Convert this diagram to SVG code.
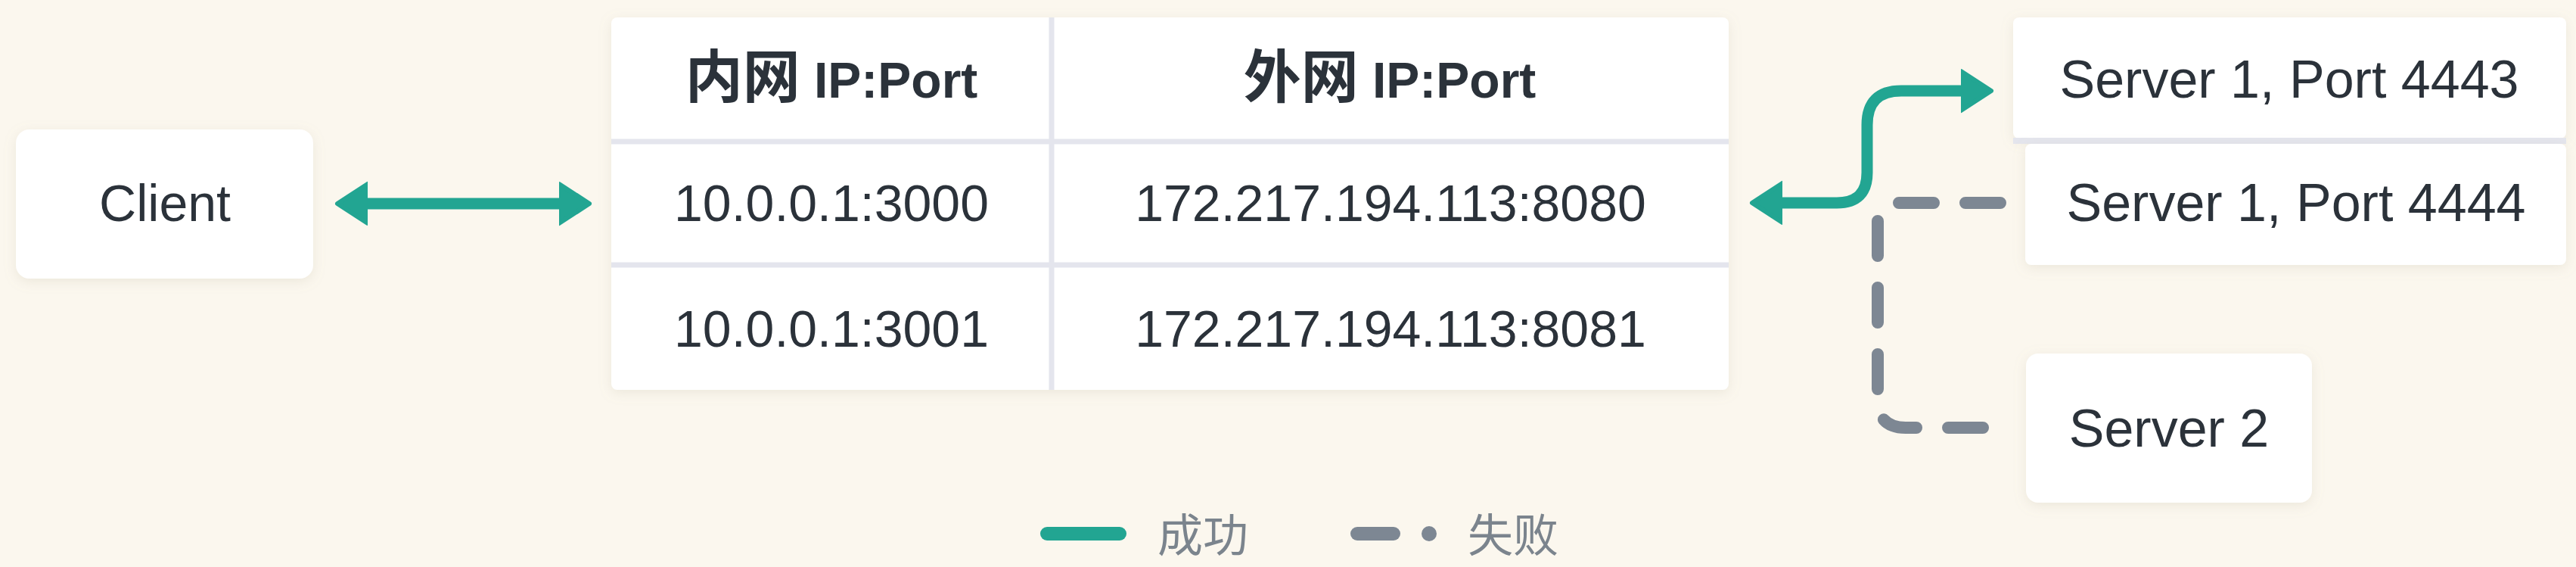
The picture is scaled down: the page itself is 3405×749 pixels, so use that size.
<svg xmlns="http://www.w3.org/2000/svg" width="3405" height="749" viewBox="0 0 3405 749">
<style>
.t{font-family:"Liberation Sans","Noto Sans CJK SC",sans-serif;fill:#2b323a;font-size:68px;text-anchor:middle}
.h{font-weight:bold;font-size:66px}
.cjk{font-family:"Noto Sans CJK SC",sans-serif;font-size:76px}
.lg{font-family:"Noto Sans CJK SC",sans-serif;fill:#7b848d;font-size:60px}
.box{fill:#ffffff;filter:url(#sh)}
.div{stroke:#e4e5ed;stroke-width:7}
.ok{fill:none;stroke:#22a592;stroke-width:15}
.fail{fill:none;stroke:#7d8793;stroke-width:16;stroke-linecap:round;stroke-dasharray:46 42}
</style>
<defs>
<filter id="sh" x="-10%" y="-20%" width="120%" height="140%">
<feDropShadow dx="0" dy="4" stdDeviation="8" flood-color="#a89f86" flood-opacity="0.18"/>
</filter>
<marker id="ah" markerUnits="userSpaceOnUse" markerWidth="50" markerHeight="62" refX="2" refY="30" orient="auto-start-reverse" viewBox="0 0 50 62">
<path d="M0,4 L40,30 L0,56 Z" fill="#22a592" stroke="#22a592" stroke-width="6" stroke-linejoin="round"/>
</marker>
</defs>
<rect width="3405" height="749" fill="#fbf7ee"/>

<g id="connectors">
<path class="ok" d="M484,269 H741" marker-start="url(#ah)" marker-end="url(#ah)"/>
<path class="ok" d="M2354,268 H2428 Q2468,268 2468,228 V165 Q2468,120 2513,120 H2594" marker-start="url(#ah)" marker-end="url(#ah)"/>
<path class="fail" d="M2644,268 H2470"/>
<path class="fail" d="M2482,292 V528 Q2482,565 2519,565 H2644"/>
</g>

<g id="client">
<rect class="box" x="21" y="171" width="393" height="197" rx="18"/>
<text class="t" x="218" y="292">Client</text>
</g>

<g id="nat-table">
<rect class="box" x="808" y="23" width="1477" height="492" rx="8"/>
<line class="div" x1="808" y1="187" x2="2285" y2="187"/>
<line class="div" x1="808" y1="350" x2="2285" y2="350"/>
<line class="div" x1="1390" y1="23" x2="1390" y2="515"/>
<text class="t h" x="1099" y="129"><tspan class="cjk">内网</tspan> IP:Port</text>
<text class="t h" x="1837" y="129"><tspan class="cjk">外网</tspan> IP:Port</text>
<text class="t" x="1099" y="292">10.0.0.1:3000</text>
<text class="t" x="1838" y="292">172.217.194.113:8080</text>
<text class="t" x="1099" y="458">10.0.0.1:3001</text>
<text class="t" x="1838" y="458">172.217.194.113:8081</text>
</g>

<g id="server1-4443">
<rect class="box" x="2661" y="23" width="731" height="160" rx="8"/>
<text class="t" x="3026" y="129" style="font-size:70px">Server 1, Port 4443</text>
</g>
<rect x="2661" y="182" width="731" height="8" fill="#e4e5ed"/>
<g id="server1-4444">
<rect class="box" x="2677" y="190" width="715" height="160" rx="8"/>
<text class="t" x="3035" y="292" style="font-size:70px">Server 1, Port 4444</text>
</g>

<g id="server2">
<rect class="box" x="2678" y="467" width="378" height="197" rx="16"/>
<text class="t" x="2867" y="590" style="font-size:70px">Server 2</text>
</g>

<g id="legend">
<line x1="1384" y1="705" x2="1480" y2="705" stroke="#22a592" stroke-width="18" stroke-linecap="round"/>
<text class="lg" x="1530" y="729">成功</text>
<line x1="1794" y1="705" x2="1842" y2="705" stroke="#7d8793" stroke-width="18" stroke-linecap="round"/>
<circle cx="1889" cy="705" r="10" fill="#7d8793"/>
<text class="lg" x="1940" y="729">失败</text>
</g>
</svg>
